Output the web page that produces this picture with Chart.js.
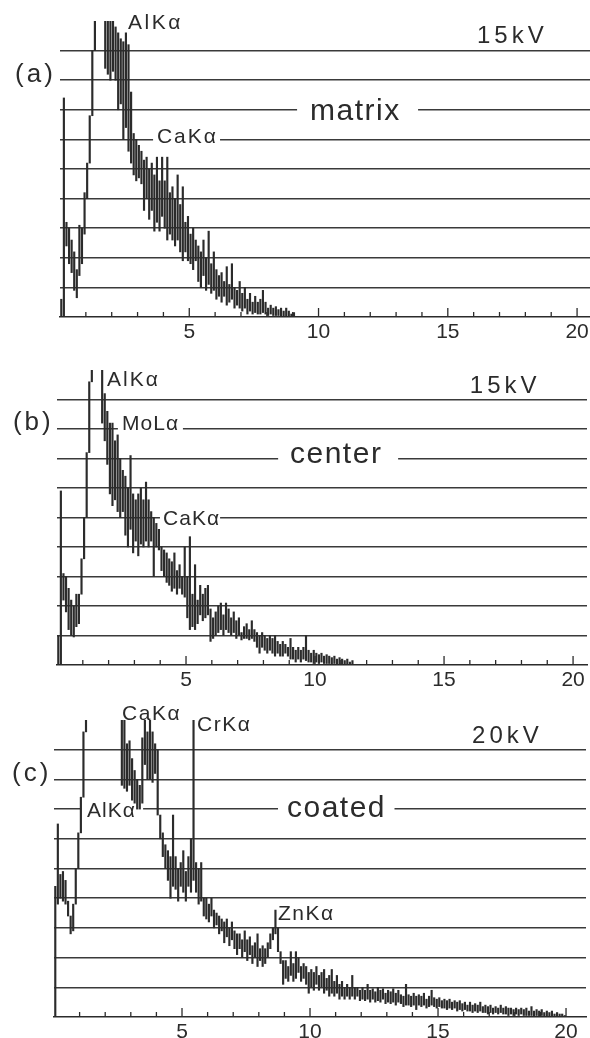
<!DOCTYPE html>
<html>
<head>
<meta charset="utf-8">
<script src="https://cdn.jsdelivr.net/npm/chart.js@4/dist/chart.umd.min.js"></script>
<style>
  html, body { margin: 0; padding: 0; background: #fff; }
  #page { position: relative; width: 590px; height: 1038px; overflow: hidden; }
  #page canvas { position: absolute; left: 0; }
</style>
</head>
<body>
<div id="page">
  <canvas id="matrixChart" width="590" height="345" style="top:0"></canvas>
  <canvas id="centerChart" width="590" height="350" style="top:345px"></canvas>
  <canvas id="coatedChart" width="590" height="343" style="top:695px"></canvas>
</div>
<script>
// EDS spectra, 0.1 keV channels. Each channel keeps the lower and upper
// extent of the noisy trace, in grid divisions (full scale = 10).
const BIN_KEV = 0.1;
const tickLabels = [5, 10, 15, 20];

// (a) matrix, 15 kV
const matrixLow = [
  0, 0, 2.4, 1.8, 1.5, 0.9, 0.65, 1.4, 1.8, 2.8,
  4.0, 5.2, 6.8, 9.0, 11, 11, 11, 8.4, 8.2, 8.0,
  8.3, 8.0, 7.0, 7.2, 6.0, 6.4, 5.6, 5.2, 4.8, 4.6,
  4.7, 4.5, 3.6, 4.0, 3.3, 3.6, 2.9, 3.2, 2.9, 3.4,
  3.0, 2.6, 2.8, 2.6, 2.4, 2.6, 2.2, 1.9, 2.2, 1.9,
  1.8, 1.6, 1.9, 1.2, 1.0, 1.4, 0.9, 1.1, 0.8, 0.9,
  0.6, 0.7, 0.5, 0.7, 0.4, 0.5, 0.6, 0.3, 0.4, 0.3,
  0.2, 0.3, 0.1, 0.2, 0.1, 0.15, 0.1, 0.1, 0.15, 0.1,
  0.05, 0.1, 0.05, 0.05, 0.05, 0, 0, 0, 0, 0,
  0
];
const matrixHigh = [
  0.6, 7.4, 3.2, 3.0, 2.6, 2.2, 1.6, 3.1, 3.0, 4.2,
  5.2, 6.8, 9.0, 12, 12, 12, 12, 12, 10.4, 10.4,
  10.4, 9.8, 9.6, 9.4, 9.3, 9.6, 9.2, 7.6, 6.2, 6.0,
  5.8, 5.6, 5.3, 5.4, 5.0, 5.2, 4.8, 5.4, 4.6, 5.4,
  4.6, 5.4, 4.2, 4.4, 4.0, 4.8, 3.8, 4.4, 3.2, 3.4,
  2.8, 3.0, 2.6, 2.4, 2.2, 2.6, 2.0, 2.9, 1.8, 2.2,
  1.6, 1.4, 1.5, 1.2, 1.7, 1.1, 1.8, 1.0, 0.9, 1.2,
  0.8, 1.0, 0.6, 0.8, 0.5, 0.7, 0.5, 0.6, 0.9, 0.5,
  0.3, 0.4, 0.3, 0.35, 0.25, 0.3, 0.2, 0.3, 0.2, 0.1,
  0.15
];

// (b) center, 15 kV
const centerLow = [
  0, 0, 2.2, 1.8, 1.2, 1.0, 0.95, 1.3, 1.4, 2.4,
  3.6, 5.0, 7.2, 9.6, 11, 11, 11, 8.2, 7.6, 6.8,
  5.8, 5.4, 5.6, 5.2, 5.0, 5.2, 4.4, 4.0, 4.6, 3.8,
  4.2, 3.7, 4.1, 4.0, 4.2, 4.0, 4.2, 3.0, 4.0, 3.9,
  3.2, 3.0, 2.8, 2.7, 2.5, 2.6, 2.4, 2.6, 2.4, 2.3,
  1.6, 1.2, 1.3, 1.2, 1.4, 1.7, 1.5, 1.6, 1.7, 0.8,
  0.9, 1.0, 1.1, 1.2, 1.0, 1.2, 1.1, 1.0, 1.1, 0.9,
  1.0, 0.85, 0.9, 0.9, 0.85, 0.9, 0.8, 0.6, 0.4, 0.6,
  0.5, 0.4, 0.5, 0.4, 0.3, 0.4, 0.3, 0.3, 0.4, 0.3,
  0.2, 0.2, 0.1, 0.2, 0.1, 0.2, 0.15, 0.1, 0.1, 0.05,
  0.1, 0.05, 0.1, 0.05, 0.05, 0.05, 0, 0.05, 0, 0,
  0, 0, 0, 0, 0
];
const centerHigh = [
  1.0, 5.9, 3.1, 3.0, 2.6, 2.2, 2.0, 2.4, 2.4, 3.6,
  5.0, 7.2, 9.6, 12, 12, 12, 12, 12, 9.2, 8.6,
  8.2, 8.2, 7.6, 7.8, 7.0, 6.6, 6.4, 6.0, 7.1, 5.8,
  5.6, 5.8, 6.0, 5.6, 6.2, 5.6, 5.2, 5.0, 4.8, 4.6,
  4.0, 3.9, 3.8, 3.6, 3.5, 3.8, 3.2, 3.4, 3.0, 4.0,
  3.0, 4.35, 2.4, 3.4, 2.2, 2.7, 2.4, 2.6, 2.7, 1.9,
  1.6, 1.8, 2.0, 2.1, 1.7, 2.1, 1.9, 1.6, 1.8, 1.5,
  1.6, 1.1, 1.3, 1.4, 1.2, 1.5, 1.2, 1.1, 1.0, 1.1,
  1.0, 0.9, 1.0, 0.9, 1.0, 0.8, 0.7, 0.8, 0.7, 0.6,
  0.9, 0.6, 0.5, 0.6, 0.5, 0.6, 1.0, 0.5, 0.4, 0.5,
  0.4, 0.35, 0.4, 0.3, 0.35, 0.3, 0.25, 0.3, 0.2, 0.25,
  0.2, 0.15, 0.2, 0.1, 0.15
];

// (c) coated, 20 kV
const coatedLow = [
  0, 3.8, 4.0, 3.9, 3.8, 3.4, 2.8, 2.9, 3.8, 5.0,
  6.2, 7.4, 9.6, 11, 11, 11, 11, 11, 11, 11,
  11, 11, 11, 11, 11, 11, 7.8, 7.7, 7.6, 7.8,
  7.3, 7.2, 7.0, 7.0, 7.2, 8.5, 8.0, 8.0, 7.9, 8.2,
  6.8, 6.0, 5.4, 5.0, 4.6, 4.0, 4.4, 4.3, 3.9, 4.4,
  4.2, 3.9, 4.4, 4.2, 4.6, 4.2, 3.8, 3.9, 3.4, 3.3,
  3.2, 3.4, 3.0, 3.1, 2.8, 2.9, 2.5, 2.7, 2.4, 2.6,
  2.3, 2.1, 2.3, 2.0, 2.2, 1.9, 2.1, 1.8, 2.0, 1.7,
  1.9, 1.7, 1.8, 2.0, 2.3, 2.6, 2.8, 2.2, 1.8, 1.1,
  1.3, 1.2, 1.4, 1.2, 1.3, 1.5, 1.2, 1.3, 1.1, 0.8,
  1.0, 0.9, 1.1, 0.9, 1.0, 0.8, 0.9, 0.7, 0.8, 0.7,
  0.8, 0.6, 0.7, 0.6, 0.7, 0.6, 0.7, 0.6, 0.7, 0.55,
  0.6, 0.55, 0.6, 0.5, 0.6, 0.5, 0.55, 0.5, 0.6, 0.45,
  0.5, 0.45, 0.5, 0.4, 0.5, 0.45, 0.35, 0.4, 0.4, 0.35,
  0.4, 0.25, 0.4, 0.35, 0.4, 0.3, 0.35, 0.4, 0.35, 0.3,
  0.35, 0.3, 0.3, 0.25, 0.3, 0.25, 0.3, 0.2, 0.25, 0.2,
  0.25, 0.2, 0.2, 0.15, 0.2, 0.15, 0.2, 0.15, 0.15, 0.1,
  0.15, 0.1, 0.15, 0.1, 0.15, 0.1, 0.1, 0.05, 0.1, 0.05,
  0.1, 0.05, 0.1, 0.05, 0.05, 0.05, 0.05, 0, 0.05, 0,
  0.05, 0, 0, 0, 0, 0, 0, 0, 0, 0
];
const coatedHigh = [
  4.4, 6.5, 4.8, 4.9, 4.6, 3.9, 3.4, 3.8, 5.0, 6.2,
  7.4, 9.6, 12, 12, 12, 12, 12, 12, 12, 12,
  12, 12, 12, 12, 12, 12, 12, 10.2, 9.2, 9.3,
  8.7, 8.3, 8.0, 7.8, 9.4, 10.2, 9.6, 10.2, 9.6, 9.2,
  9.0, 6.8, 6.2, 5.8, 5.6, 5.4, 6.8, 5.4, 5.0, 5.2,
  5.6, 4.9, 5.4, 6.0, 12, 5.2, 5.0, 5.2, 4.0, 4.0,
  3.8, 4.0, 3.6, 3.5, 3.4, 3.3, 3.2, 3.3, 3.0, 3.2,
  2.9, 2.8, 2.8, 2.6, 2.9, 2.6, 2.7, 2.4, 2.5, 2.8,
  2.3, 2.4, 2.3, 2.5, 2.8, 3.0, 3.6, 3.0, 2.2, 1.9,
  1.9, 1.7, 2.2, 1.8, 2.2, 2.0, 1.7, 1.8, 1.7, 1.5,
  1.6, 1.5, 1.7, 1.4, 1.5, 1.6, 1.3, 1.4, 1.6, 1.2,
  1.4, 1.1, 1.2, 1.0, 1.1, 1.0, 1.4, 1.0, 1.0, 0.9,
  1.0, 0.9, 1.1, 0.9, 0.95, 0.85, 1.0, 0.9, 0.95, 0.8,
  0.9, 0.85, 0.95, 0.8, 0.9, 0.75, 0.7, 1.1, 0.75, 0.7,
  0.8, 0.7, 0.75, 0.7, 0.8, 0.6, 0.7, 0.9, 0.65, 0.6,
  0.65, 0.55, 0.6, 0.55, 0.6, 0.5, 0.55, 0.5, 0.55, 0.45,
  0.5, 0.4, 0.5, 0.4, 0.45, 0.4, 0.5, 0.35, 0.4, 0.35,
  0.4, 0.3, 0.35, 0.3, 0.4, 0.3, 0.35, 0.3, 0.3, 0.25,
  0.3, 0.25, 0.3, 0.25, 0.3, 0.2, 0.35, 0.2, 0.25, 0.2,
  0.25, 0.15, 0.2, 0.15, 0.2, 0.1, 0.15, 0.1, 0.1, 0.05
];

const INK = '#2b2b2b';
const GRID = '#3a3a3a';
const FONT = '"Liberation Sans", Arial, Helvetica, sans-serif';

function toBars(low, high) {
  return low.map((lo, i) => ({ x: (i + 0.5) * BIN_KEV, y: [lo, high[i]] }));
}

// labels, breaks in the grid lines behind them, and the little energy ticks
function decor(notes, gaps) {
  return {
    id: 'decor',
    beforeDatasetsDraw(chart) {
      const { ctx, chartArea } = chart;
      const xs = chart.scales.x, ys = chart.scales.y;
      ctx.save();
      ctx.fillStyle = '#fff';
      gaps.forEach(g => {
        const yy = ys.getPixelForValue(g.level);
        const x0 = xs.getPixelForValue(g.from);
        const x1 = xs.getPixelForValue(g.to);
        ctx.fillRect(x0, yy - 3, x1 - x0, 6);
      });
      ctx.strokeStyle = INK;
      ctx.lineWidth = 1.3;
      xs.ticks.forEach(t => {
        if (!Number.isInteger(t.value) || t.value === 0) return;
        const px = xs.getPixelForValue(t.value);
        const len = t.value % 5 === 0 ? 9 : 5;
        ctx.beginPath();
        ctx.moveTo(px, chartArea.bottom);
        ctx.lineTo(px, chartArea.bottom - len);
        ctx.stroke();
      });
      ctx.restore();
    },
    afterDatasetsDraw(chart) {
      const { ctx } = chart;
      const xs = chart.scales.x, ys = chart.scales.y;
      ctx.save();
      ctx.fillStyle = INK;
      ctx.textAlign = 'left';
      ctx.textBaseline = 'alphabetic';
      notes.forEach(n => {
        ctx.font = n.size + 'px ' + FONT;
        ctx.letterSpacing = (n.spacing || 0) + 'px';
        ctx.fillText(n.text, xs.getPixelForValue(n.x), ys.getPixelForValue(n.y));
      });
      ctx.restore();
    }
  };
}

function buildPanel(id, low, high, frame, notes, gaps) {
  return new Chart(document.getElementById(id), {
    type: 'bar',
    data: {
      datasets: [{
        data: toBars(low, high),
        backgroundColor: INK,
        borderWidth: 0,
        barThickness: 1.5,
        grouped: false,
        clip: 0
      }]
    },
    options: {
      responsive: false,
      animation: false,
      events: [],
      layout: { padding: { top: frame.top, left: frame.left, right: frame.right, bottom: 0 } },
      plugins: { legend: { display: false }, tooltip: { enabled: false } },
      scales: {
        x: {
          type: 'linear',
          min: 0,
          max: frame.xMax,
          offset: false,
          grid: { display: false },
          border: { display: true, color: INK, width: 1.6 },
          ticks: {
            stepSize: 1,
            includeBounds: false,
            autoSkip: false,
            maxRotation: 0,
            padding: -5,
            color: INK,
            font: { family: FONT, size: 21 },
            callback: v => tickLabels.includes(v) ? String(v) : ''
          },
          afterFit: s => { s.height = frame.axis; }
        },
        y: {
          min: 0,
          max: 10,
          ticks: { display: false, stepSize: 1 },
          border: { display: false },
          grid: {
            drawTicks: false,
            lineWidth: 1.5,
            color: c => (c.tick && c.tick.value > 0 && c.tick.value < 10) ? GRID : 'rgba(0,0,0,0)'
          },
          afterFit: s => { s.width = 0; }
        }
      }
    },
    plugins: [decor(notes, gaps)]
  });
}

buildPanel('matrixChart', matrixLow, matrixHigh,
  { top: 21, left: 60, right: 0, axis: 28, xMax: 20.5 },
  [
    { text: '(a)', x: -1.74, y: 7.95, size: 26, spacing: 3 },
    { text: 'AlKα', x: 2.63, y: 9.73, size: 21, spacing: 2.5 },
    { text: '15kV', x: 16.13, y: 9.26, size: 24, spacing: 4 },
    { text: 'matrix', x: 9.67, y: 6.64, size: 30, spacing: 1.5 },
    { text: 'CaKα', x: 3.75, y: 5.88, size: 21, spacing: 2 }
  ],
  [
    { level: 7, from: 9.17, to: 13.85 },
    { level: 6, from: 3.6, to: 6.19 }
  ]);

buildPanel('centerChart', centerLow, centerHigh,
  { top: 25, left: 57, right: 3, axis: 30, xMax: 20.54 },
  [
    { text: '(b)', x: -1.71, y: 7.95, size: 26, spacing: 3 },
    { text: 'AlKα', x: 1.94, y: 9.46, size: 21, spacing: 2 },
    { text: 'MoLα', x: 2.52, y: 7.97, size: 21, spacing: 1 },
    { text: '15kV', x: 16.0, y: 9.22, size: 24, spacing: 4 },
    { text: 'center', x: 9.03, y: 6.85, size: 30, spacing: 1.5 },
    { text: 'CaKα', x: 4.11, y: 4.75, size: 21, spacing: 1 }
  ],
  [
    { level: 8, from: 2.36, to: 4.88 },
    { level: 7, from: 8.57, to: 13.22 },
    { level: 5, from: 3.99, to: 6.32 }
  ]);

buildPanel('coatedChart', coatedLow, coatedHigh,
  { top: 25, left: 54, right: 4, axis: 21, xMax: 20.78 },
  [
    { text: '(c)', x: -1.64, y: 7.95, size: 26, spacing: 3 },
    { text: 'CaKα', x: 2.66, y: 10.0, size: 21, spacing: 1.5 },
    { text: 'CrKα', x: 5.59, y: 9.62, size: 21, spacing: 1.5 },
    { text: 'AlKα', x: 1.29, y: 6.73, size: 21, spacing: 1 },
    { text: 'coated', x: 9.1, y: 6.73, size: 30, spacing: 1.5 },
    { text: 'ZnKα', x: 8.75, y: 3.27, size: 21, spacing: 1.5 },
    { text: '20kV', x: 16.33, y: 9.23, size: 24, spacing: 4 }
  ],
  [
    { level: 7, from: 1.02, to: 3.48 },
    { level: 7, from: 8.75, to: 13.3 }
  ]);
</script>
</body>
</html>
